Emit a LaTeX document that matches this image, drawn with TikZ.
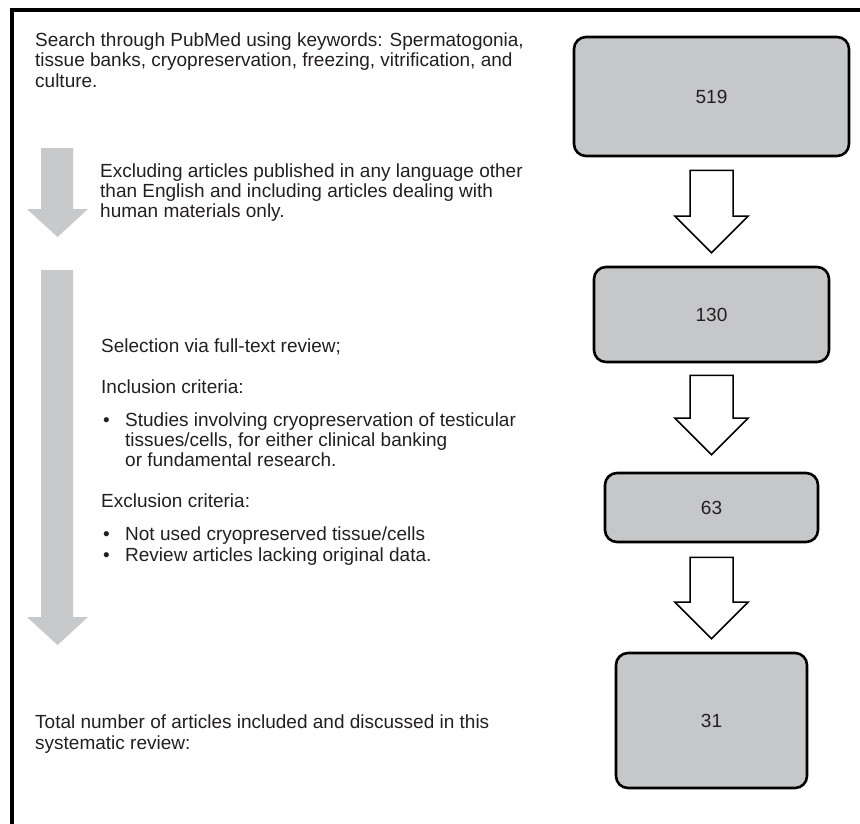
\documentclass[tikz,border=0pt]{standalone}
\usepackage{fontspec}
\setmainfont{Liberation Sans}
\usetikzlibrary{calc}
\definecolor{boxgray}{RGB}{198,199,201}
\definecolor{arrgray}{RGB}{200,201,203}
\definecolor{inkc}{RGB}{35,31,32}
\newcommand\blockarr[4]{%
  \draw[whitearrow] let \p1=(#1.south), \p2=(#2.north) in
    (\x1-21.5pt,\y1-#3pt) -- (\x1+21.5pt,\y1-#3pt) -- (\x1+21.5pt,\y2+#4pt+36.5pt)
    -- (\x1+36.5pt,\y2+#4pt+36.5pt) -- (\x1,\y2+#4pt) -- (\x1-36.5pt,\y2+#4pt+36.5pt)
    -- (\x1-21.5pt,\y2+#4pt+36.5pt) -- cycle;}
\begin{document}
\begin{tikzpicture}[x=1pt,y=-1pt,
  txt/.style={anchor=base west, inner sep=0pt, text=inkc, font=\fontsize{19}{20}\selectfont},
  numbox/.style={draw=black, line width=2.6pt, fill=boxgray, rounded corners=12pt,
    text=inkc, font=\fontsize{19}{20}\selectfont, inner sep=0pt},
  whitearrow/.style={draw=black, line width=1.5pt, fill=white, line join=miter},
  greyarrow/.style={fill=arrgray, draw=none}]
\useasboundingbox (0,0) rectangle (860,823);
% frame (cut at right and bottom)
\draw[line width=3.6pt] (12,825) -- (12,10) -- (862,10);

% count boxes
\node[numbox, minimum width=275pt, minimum height=119pt] (b519) at (711.5,96.5) {519};
\node[numbox, minimum width=235pt, minimum height=95pt]  (b130) at (711.5,314.5) {130};
\node[numbox, minimum width=213pt, minimum height=69pt]  (b63)  at (711.5,507.5) {63};
\node[numbox, minimum width=191pt, minimum height=135pt] (b31)  at (711.5,720.5) {31};

% white block arrows
\blockarr{b519}{b130}{13}{13}
\blockarr{b130}{b63}{12}{17}
\blockarr{b63}{b31}{14}{13}

% grey arrows
\fill[greyarrow] (41,148) -- (73,148) -- (73,209) -- (88,209) -- (57.5,237) -- (27,209) -- (41,209) -- cycle;
\fill[greyarrow] (41,270) -- (73,270) -- (73,617) -- (88,617) -- (57.5,645) -- (27,617) -- (41,617) -- cycle;

% text block 1
\node[txt] (t1a) at (35,46) {Search through PubMed using keywords: Spermatogonia,};
\node[txt] (t1b) at (35,66.5) {tissue banks, cryopreservation, freezing, vitrification, and};
\node[txt] (t1c) at (35,87) {culture.};
% text block 2
\node[txt] (t2a) at (100,177) {Excluding articles published in any language other};
\node[txt] (t2b) at (100,197) {than English and including articles dealing with};
\node[txt] (t2c) at (100,217) {human materials only.};
% text block 3
\node[txt] (t3a) at (101,352) {Selection via full-text review;};
\node[txt] (t3b) at (101,393) {Inclusion criteria:};
\node[txt] (t3c0) at (103,426) {•};
\node[txt] (t3c) at (125,426) {Studies involving cryopreservation of testicular};
\node[txt] (t3d) at (125,446) {tissues/cells, for either clinical banking};
\node[txt] (t3e) at (125,466) {or fundamental research.};
\node[txt] (t3f) at (101,507) {Exclusion criteria:};
\node[txt] (t3g0) at (103,540) {•};
\node[txt] (t3g) at (125,540) {Not used cryopreserved tissue/cells};
\node[txt] (t3h0) at (103,561) {•};
\node[txt] (t3h) at (125,561) {Review articles lacking original data.};
% text block 4
\node[txt] (t4a) at (35,728) {Total number of articles included and discussed in this};
\node[txt] (t4b) at (35,749) {systematic review:};
\end{tikzpicture}
\end{document}
